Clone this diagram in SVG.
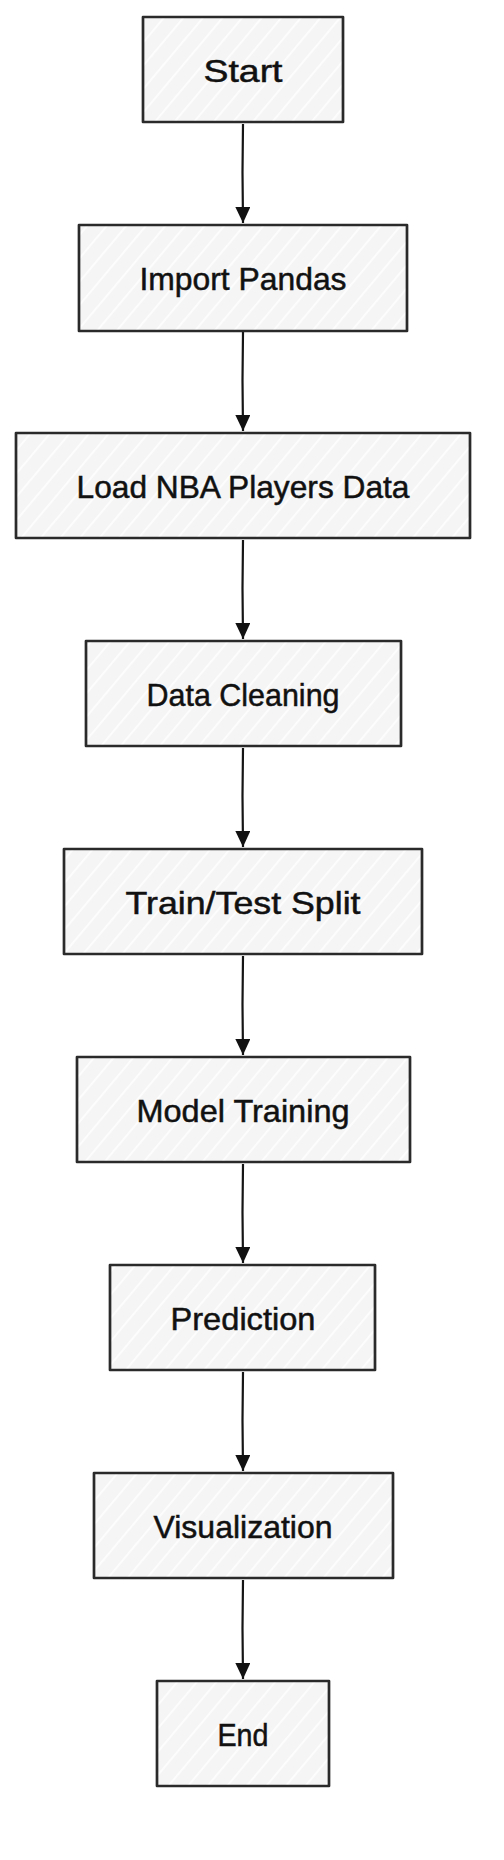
<svg xmlns="http://www.w3.org/2000/svg" width="504" height="1860" viewBox="0 0 504 1860">
<defs>
<pattern id="hach" width="15" height="15" patternUnits="userSpaceOnUse" patternTransform="rotate(40)">
<rect width="15" height="15" fill="#f5f5f5"/>
<line x1="2" y1="0" x2="2" y2="15" stroke="#ffffff" stroke-width="1.6"/>
</pattern>
<marker id="ah" viewBox="0 0 16 15" refX="16" refY="7.5" markerWidth="16" markerHeight="15" markerUnits="userSpaceOnUse" orient="auto">
<path d="M0,0 L16,7.5 L0,15 Z" fill="#111111"/>
</marker>
</defs>
<style>
.box{fill:url(#hach);stroke:#2a2a2a;stroke-width:2.7;stroke-linejoin:round}
.lbl{font-family:"Liberation Sans",Arial,sans-serif;font-size:32px;fill:#111111;stroke:#111111;stroke-width:0.5;text-anchor:middle}
.edge{fill:none;stroke:#151515;stroke-width:2.2}
</style>
<rect width="504" height="1860" fill="#ffffff"/>
<g id="connectors">
<path class="edge" d="M243,124 L242.5,172 L243,223" marker-end="url(#ah)"/>
<path class="edge" d="M243,332 L242.5,380 L243,431" marker-end="url(#ah)"/>
<path class="edge" d="M243,540 L242.5,588 L243,639" marker-end="url(#ah)"/>
<path class="edge" d="M243,748 L242.5,796 L243,847" marker-end="url(#ah)"/>
<path class="edge" d="M243,956 L242.5,1004 L243,1055" marker-end="url(#ah)"/>
<path class="edge" d="M243,1164 L242.5,1212 L243,1263" marker-end="url(#ah)"/>
<path class="edge" d="M243,1372 L242.5,1420 L243,1471" marker-end="url(#ah)"/>
<path class="edge" d="M243,1580 L242.5,1628 L243,1679" marker-end="url(#ah)"/>
</g>
<g id="start"><rect class="box" x="143" y="17" width="200" height="105"/><text class="lbl" x="243" y="82" textLength="79" lengthAdjust="spacingAndGlyphs">Start</text></g>
<g id="import-pandas"><rect class="box" x="79" y="225" width="328" height="106"/><text class="lbl" x="243" y="290" textLength="207" lengthAdjust="spacingAndGlyphs">Import Pandas</text></g>
<g id="load-data"><rect class="box" x="16" y="433" width="454" height="105"/><text class="lbl" x="243" y="498" textLength="333" lengthAdjust="spacingAndGlyphs">Load NBA Players Data</text></g>
<g id="data-cleaning"><rect class="box" x="86" y="641" width="315" height="105"/><text class="lbl" x="243" y="706" textLength="193" lengthAdjust="spacingAndGlyphs">Data Cleaning</text></g>
<g id="train-test-split"><rect class="box" x="64" y="849" width="358" height="105"/><text class="lbl" x="243" y="914" textLength="235" lengthAdjust="spacingAndGlyphs">Train/Test Split</text></g>
<g id="model-training"><rect class="box" x="77" y="1057" width="333" height="105"/><text class="lbl" x="243" y="1122" textLength="213" lengthAdjust="spacingAndGlyphs">Model Training</text></g>
<g id="prediction"><rect class="box" x="110" y="1265" width="265" height="105"/><text class="lbl" x="243" y="1330" textLength="145" lengthAdjust="spacingAndGlyphs">Prediction</text></g>
<g id="visualization"><rect class="box" x="94" y="1473" width="299" height="105"/><text class="lbl" x="243" y="1538" textLength="179" lengthAdjust="spacingAndGlyphs">Visualization</text></g>
<g id="end"><rect class="box" x="157" y="1681" width="172" height="105"/><text class="lbl" x="243" y="1746" textLength="51" lengthAdjust="spacingAndGlyphs">End</text></g>
</svg>
